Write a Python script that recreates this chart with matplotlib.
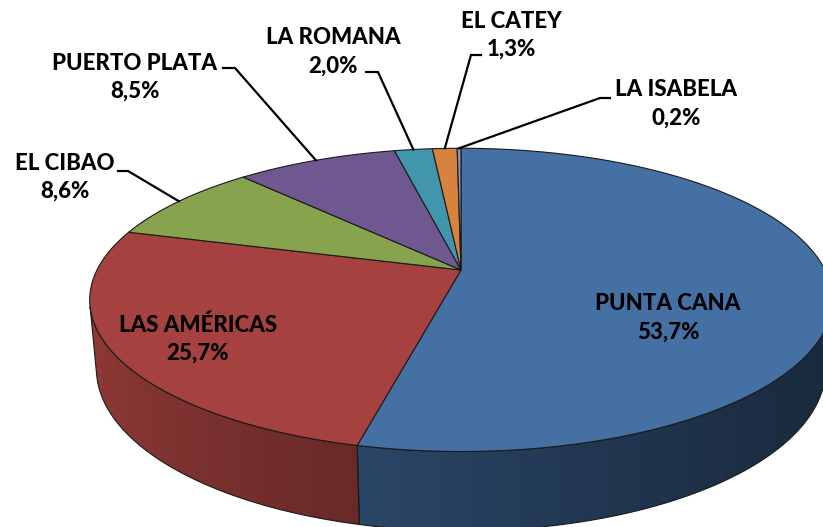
import numpy as np
import matplotlib.pyplot as plt
from matplotlib.colors import to_rgb
from matplotlib.patches import Polygon

# datos
regions = ["PUNTA CANA", "LAS AMÉRICAS", "EL CIBAO", "PUERTO PLATA",
           "LA ROMANA", "EL CATEY", "LA ISABELA"]
shares = [53.7, 25.7, 8.6, 8.5, 2.0, 1.3, 0.2]
pct_labels = ["53,7%", "25,7%", "8,6%", "8,5%", "2,0%", "1,3%", "0,2%"]
colors = ["#4470A4", "#A5423F", "#87A34D", "#6F5790", "#4196AD", "#D7833D", "#8497B0"]

# label layout (pixel coords): text centre, elbow of leader, end of leader
label_xy = [(668, 318), (198, 339), (65, 177), (135, 77), (333, 52), (511, 35), (676, 104)]
elbows = [None, None, (128, 171), (235, 68), (378, 72), (471, 55), (600, 98)]
ends = [None, None, (118, 171), (223, 68), (366, 72), (481, 55), (610, 98)]

W, H = 823, 527

# proyeccion en perspectiva
CX, CY, S = 461, 270, 364
elev = np.radians(23.6)
ce, se = np.cos(elev), np.sin(elev)
dist = 4.65
thick = 0.205


def project(X, Y, Z):
    depth = Y * ce - Z * se
    vert = Y * se + Z * ce
    f = dist / (dist + depth)
    return CX + S * X * f, CY - S * vert * f


fig = plt.figure(figsize=(W / 100, H / 100), dpi=100, facecolor="white")
ax = fig.add_axes([0, 0, 1, 1])
ax.set_xlim(0, W)
ax.set_ylim(H, 0)
ax.axis("off")

fracs = np.array(shares) / sum(shares)
bounds = np.concatenate([[0], np.cumsum(fracs)])
# Excel: desde las 12, sentido horario
angles = np.pi / 2 - 2 * np.pi * bounds

front_lim = -1 / (dist * ce)

# degradado horizontal de las paredes
xs = np.arange(W) + 0.5
tt = np.clip((xs - 88) / 735, 0, 1)
shade = 0.88 - 0.5 * tt ** 0.7

# paredes laterales
for i, col in enumerate(colors):
    a0, a1 = angles[i], angles[i + 1]
    t = np.linspace(a0, a1, max(int(abs(a1 - a0) / 0.005), 2))
    tv = t[np.sin(t) < front_lim]
    if len(tv) < 2:
        continue
    top = [project(np.cos(a), np.sin(a), 0) for a in tv]
    bot = [project(np.cos(a), np.sin(a), -thick) for a in tv[::-1]]
    wall = Polygon(top + bot, closed=True, facecolor="none", edgecolor="none")
    ax.add_patch(wall)
    grad = np.array(to_rgb(col))[None, None, :] * shade[None, :, None]
    im = ax.imshow(grad, extent=(0, W, H, 0), aspect="auto",
                   interpolation="bilinear", zorder=1)
    im.set_clip_path(wall)
    ax.add_patch(Polygon(top + bot, closed=True, fill=False,
                         edgecolor="#1a1a1a", lw=0.8, zorder=2))

# caras superiores
for i, col in enumerate(colors):
    a0, a1 = angles[i], angles[i + 1]
    t = np.linspace(a0, a1, max(int(abs(a1 - a0) / 0.005), 2))
    pts = [project(0, 0, 0)] + [project(np.cos(a), np.sin(a), 0) for a in t]
    ax.add_patch(Polygon(pts, closed=True, facecolor=col,
                         edgecolor="#1a1a1a", lw=0.8, zorder=3))

ax.set_xlim(0, W)
ax.set_ylim(H, 0)

# etiquetas
font = dict(family="Lato", weight="black", fontsize=16, color="black",
            ha="center", va="center", zorder=5)
for i in range(len(regions)):
    lx, ly = label_xy[i]
    ax.text(lx, ly - 14, regions[i], **font)
    ax.text(lx, ly + 14, pct_labels[i], **font)
    if elbows[i] is not None:
        mid = (angles[i] + angles[i + 1]) / 2
        px, py = project(np.cos(mid), np.sin(mid), 0)
        ex, ey = elbows[i]
        nx, ny = ends[i]
        ax.plot([px, ex, nx], [py, ey, ny], color="black", lw=1.6,
                solid_joinstyle="miter", zorder=4)

fig.savefig("out.png", dpi=100, facecolor="white")
